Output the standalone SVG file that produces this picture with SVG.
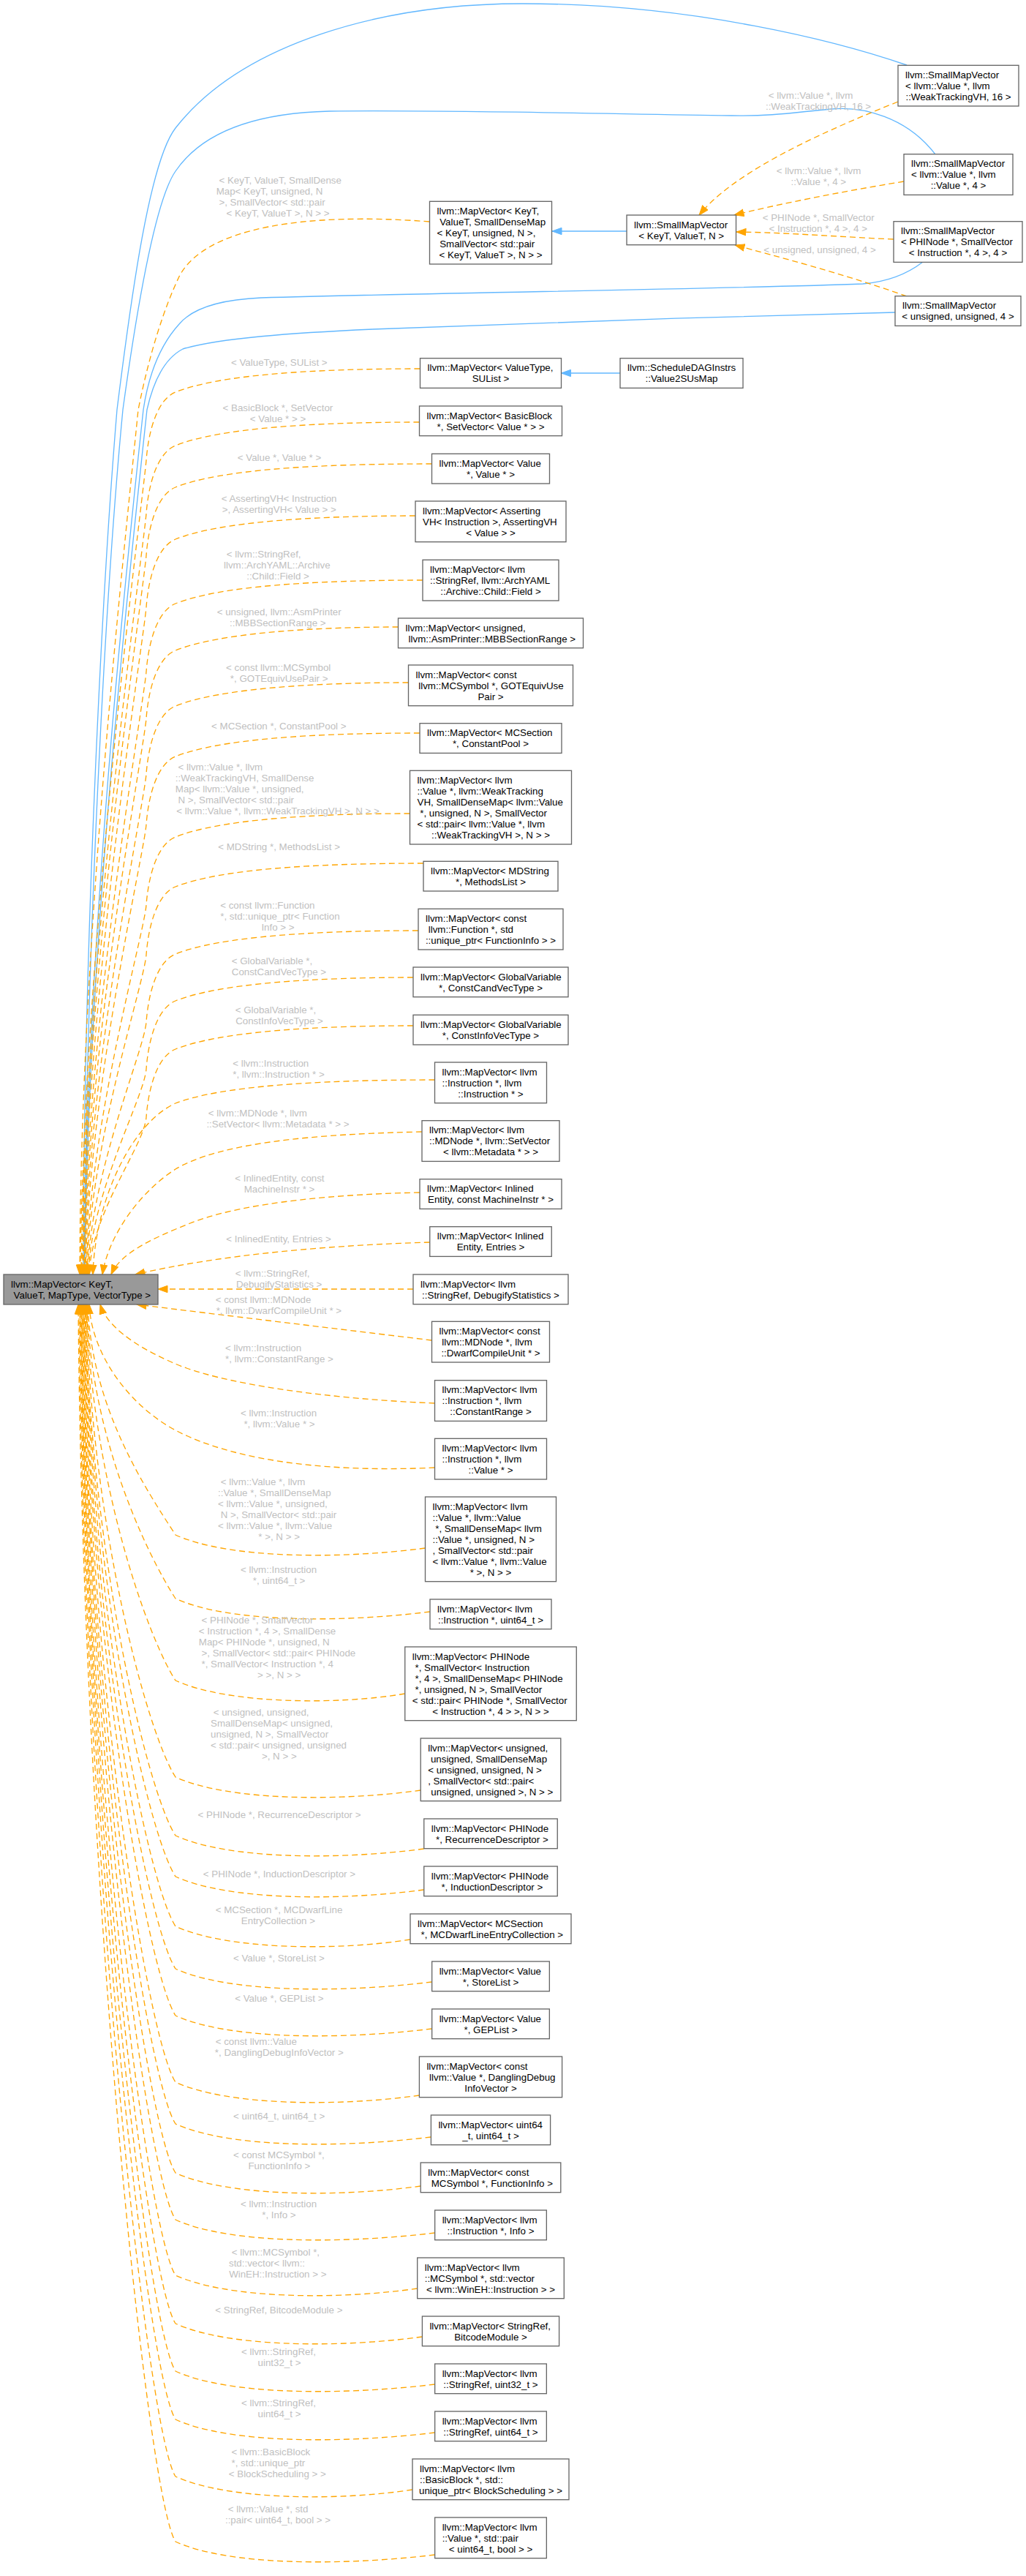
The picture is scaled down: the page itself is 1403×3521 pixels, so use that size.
<svg xmlns="http://www.w3.org/2000/svg" width="1403" height="3521" viewBox="0 0 1403 3521">
<style>
.node rect{fill:#fff;stroke:#666;stroke-width:1.33}
.node text,.lbl text{font-family:"Liberation Sans",Arial,Helvetica,sans-serif;font-size:13.33px;white-space:pre}
.node text{fill:#000}
.lbl text{fill:#c0c0c0}
.c{text-anchor:middle}
.o{fill:none;stroke:#ffa500;stroke-width:1.33;stroke-dasharray:8,5;marker-end:url(#ao)}
.b{fill:none;stroke:#63b8ff;stroke-width:1.33;marker-end:url(#ab)}
</style>
<defs>
<marker id="ao" viewBox="0 0 15 11" markerWidth="15" markerHeight="11" refX="13.5" refY="5.5" orient="auto" markerUnits="userSpaceOnUse"><path d="M0.5,0.8 L13.5,5.5 L0.5,10.2 z" fill="#ffa500" stroke="#ffa500" stroke-width="1"/></marker>
<marker id="ab" viewBox="0 0 15 11" markerWidth="15" markerHeight="11" refX="13.5" refY="5.5" orient="auto" markerUnits="userSpaceOnUse"><path d="M0.5,0.8 L13.5,5.5 L0.5,10.2 z" fill="#63b8ff" stroke="#63b8ff" stroke-width="1"/></marker>
</defs>
<rect width="1403" height="3521" fill="#fff"/>
<g id="edges">
<path class="b" d="M1240,89 C1150,58 950,5 714,5 C520,5 330,60 240,175 C205,220 180,400 160,560 C140,800 114,1300 114,1742"/>
<path class="b" d="M1279,211 C1240,160 1180,145 1137,149 C1090,153 1060,159 1000,158 C800,155 600,150 450,152 C330,155 270,190 240,234 C215,270 190,400 168,560 C145,800 117,1300 116,1742"/>
<path class="b" d="M1262,358 C1240,375 1215,385 1180,388 C1000,395 600,400 357,407 C290,410 260,425 245,443 C225,465 205,500 196,560 C170,800 118,1300 115,1742"/>
<path class="b" d="M1224,427 C1000,432 700,442 510,450 C400,455 300,462 250,477 C225,490 210,520 201,560 C175,800 120,1300 116,1742"/>
<path class="b" d="M857,316 L755,316"/>
<path class="b" d="M848,510 L767.5,510"/>
<path class="o" d="M1228,139 C1100,190 1000,240 956,294"/>
<path class="o" d="M1236,248 C1150,262 1060,280 1004,294"/>
<path class="o" d="M1222,327 C1150,324 1080,318 1007,317"/>
<path class="o" d="M1240,405 C1150,373 1060,350 1005,335"/>
<path class="o" d="M587.5,303 C420,290 280,310 245,378 C225,420 205,480 189,560 C165,800 110,1300 109,1742"/>
<path class="o" d="M574.5,504 C430,504 300,512 240,536 C215,546 203,589 200,629 C197,669 113,1297 110,1742"/>
<path class="o" d="M573.5,577 C430,577 300,585 240,609 C215,619 203,662 200,702 C197,742 114,1326 111,1742"/>
<path class="o" d="M590.5,634 C430,634 300,642 240,666 C215,676 203,719 200,759 C197,799 115,1349 112,1742"/>
<path class="o" d="M568,705 C430,705 300,713 240,737 C215,747 203,790 200,830 C197,870 116,1377 113,1742"/>
<path class="o" d="M578,793 C430,793 300,801 240,825 C215,835 203,878 200,918 C197,958 117,1412 114,1742"/>
<path class="o" d="M544.5,857 C430,857 300,865 240,889 C215,899 203,942 200,982 C197,1022 118,1438 115,1742"/>
<path class="o" d="M558.5,933 C430,933 300,941 240,965 C215,975 203,1018 200,1058 C197,1098 119,1468 116,1742"/>
<path class="o" d="M574,1002 C430,1002 300,1010 240,1034 C215,1044 203,1087 200,1127 C197,1167 120,1496 117,1742"/>
<path class="o" d="M560.5,1112 C430,1112 300,1120 240,1144 C215,1154 203,1197 200,1237 C197,1277 121,1540 118,1742"/>
<path class="o" d="M579,1180 C430,1180 300,1188 240,1212 C215,1222 203,1265 200,1305 C197,1345 122,1567 119,1742"/>
<path class="o" d="M572,1272 C430,1272 300,1280 240,1304 C215,1314 203,1357 200,1397 C197,1437 123,1604 120,1742"/>
<path class="o" d="M565,1336 C430,1336 300,1344 240,1368 C215,1378 203,1421 200,1461 C197,1501 124,1630 121,1742"/>
<path class="o" d="M565,1402 C430,1402 300,1410 240,1434 C215,1444 203,1487 200,1527 C197,1567 125,1656 122,1742"/>
<path class="o" d="M594.5,1476 C430,1476 300,1485 240,1508 C180,1535 130,1640 127,1742"/>
<path class="o" d="M577,1547 C430,1550 300,1562 240,1598 C190,1630 148,1690 140,1742"/>
<path class="o" d="M574,1630 C430,1633 320,1648 260,1672 C210,1692 165,1712 152,1742"/>
<path class="o" d="M587.75,1698 C450,1702 300,1715 185,1742"/>
<path class="o" d="M565,1762 L216,1762"/>
<path class="o" d="M590.5,1832 C450,1815 300,1797 187,1783"/>
<path class="o" d="M594.5,1918 C450,1912 300,1892 235,1862 C180,1838 145,1810 137,1783"/>
<path class="o" d="M594.5,2006 C470,2012 330,2002 240,1955 C175,1920 125,1850 122,1783"/>
<path class="o" d="M581.5,2116 C460,2132 310,2130 240,2098 C200,2036 125,1925 120,1783"/>
<path class="o" d="M588,2203 C460,2219 310,2217 240,2185 C200,2123 124,1964 119,1783"/>
<path class="o" d="M553.75,2315 C460,2331 310,2329 240,2297 C200,2235 123.5,2014 118.5,1783"/>
<path class="o" d="M575.2,2447 C460,2463 310,2461 240,2429 C200,2367 123,2074 118,1783"/>
<path class="o" d="M579.75,2527 C460,2543 310,2541 240,2509 C200,2447 122,2110 117,1783"/>
<path class="o" d="M579.75,2583 C460,2599 310,2597 240,2565 C200,2503 121.5,2135 116.5,1783"/>
<path class="o" d="M561,2651 C460,2667 310,2665 240,2633 C200,2571 121,2165 116,1783"/>
<path class="o" d="M590.65,2709 C460,2725 310,2723 240,2691 C200,2629 120,2192 115,1783"/>
<path class="o" d="M590.65,2773 C460,2789 310,2787 240,2755 C200,2693 119.5,2220 114.5,1783"/>
<path class="o" d="M573.4,2864 C460,2880 310,2878 240,2846 C200,2784 119,2261 114,1783"/>
<path class="o" d="M589.4,2921 C460,2937 310,2935 240,2903 C200,2841 118,2287 113,1783"/>
<path class="o" d="M575.2,2988 C460,3004 310,3002 240,2970 C200,2908 117.5,2317 112.5,1783"/>
<path class="o" d="M594.65,3052 C460,3068 310,3066 240,3034 C200,2972 117,2346 112,1783"/>
<path class="o" d="M570.7,3128 C460,3144 310,3142 240,3110 C200,3048 116,2380 111,1783"/>
<path class="o" d="M577.4,3194 C460,3210 310,3208 240,3176 C200,3114 115.5,2410 110.5,1783"/>
<path class="o" d="M594.65,3259 C460,3275 310,3273 240,3241 C200,3179 115,2439 110,1783"/>
<path class="o" d="M594.65,3325 C460,3341 310,3339 240,3307 C200,3245 114,2469 109,1783"/>
<path class="o" d="M564,3403 C460,3419 310,3417 240,3385 C200,3323 113,2504 108,1783"/>
<path class="o" d="M594.65,3492 C460,3508 310,3506 240,3474 C200,3412 112,2544 107,1783"/>
</g>
<g id="edge-labels" class="lbl">
<text x="1047" y="134.6"> &lt; llvm::Value *, llvm</text><text class="c" x="1119" y="149.6">::WeakTrackingVH, 16 &gt;</text>
<text x="1058" y="237.9"> &lt; llvm::Value *, llvm</text><text class="c" x="1119.3" y="253.3">::Value *, 4 &gt;</text>
<text x="1039" y="302.3"> &lt; PHINode *, SmallVector</text><text class="c" x="1118.7" y="317.3">&lt; Instruction *, 4 &gt;, 4 &gt;</text>
<text class="c" x="1121" y="345.6">&lt; unsigned, unsigned, 4 &gt;</text>
<text x="295.7" y="251.3"> &lt; KeyT, ValueT, SmallDense</text><text x="295.7" y="266.3">Map&lt; KeyT, unsigned, N</text><text x="295.7" y="281.3"> &gt;, SmallVector&lt; std::pair</text><text class="c" x="380" y="296.3">&lt; KeyT, ValueT &gt;, N &gt; &gt;</text>
<text class="c" x="381.8" y="499.9">&lt; ValueType, SUList &gt;</text>
<text x="300.8" y="562.3"> &lt; BasicBlock *, SetVector</text><text class="c" x="380" y="577.3">&lt; Value * &gt; &gt;</text>
<text class="c" x="382" y="629.6">&lt; Value *, Value * &gt;</text>
<text x="299" y="686.3"> &lt; AssertingVH&lt; Instruction</text><text class="c" x="381.8" y="701.3">&gt;, AssertingVH&lt; Value &gt; &gt;</text>
<text x="306" y="762.3"> &lt; llvm::StringRef,</text><text x="306" y="777.3">llvm::ArchYAML::Archive</text><text class="c" x="380" y="792.3">::Child::Field &gt;</text>
<text x="293" y="841.3"> &lt; unsigned, llvm::AsmPrinter</text><text class="c" x="379.8" y="856.3">::MBBSectionRange &gt;</text>
<text x="305.3" y="917.3"> &lt; const llvm::MCSymbol</text><text class="c" x="381.7" y="932.3">*, GOTEquivUsePair &gt;</text>
<text class="c" x="381.3" y="997.3">&lt; MCSection *, ConstantPool &gt;</text>
<text x="239.8" y="1052.9"> &lt; llvm::Value *, llvm</text><text x="239.8" y="1067.9">::WeakTrackingVH, SmallDense</text><text x="239.8" y="1082.9">Map&lt; llvm::Value *, unsigned,</text><text x="239.8" y="1097.9"> N &gt;, SmallVector&lt; std::pair</text><text class="c" x="380" y="1112.9">&lt; llvm::Value *, llvm::WeakTrackingVH &gt;, N &gt; &gt;</text>
<text class="c" x="381.6" y="1162.3">&lt; MDString *, MethodsList &gt;</text>
<text x="297.5" y="1242.3"> &lt; const llvm::Function</text><text x="297.5" y="1257.3"> *, std::unique_ptr&lt; Function</text><text class="c" x="380" y="1272.3">Info &gt; &gt;</text>
<text x="313" y="1318.3"> &lt; GlobalVariable *,</text><text class="c" x="381.4" y="1333.3">ConstCandVecType &gt;</text>
<text x="318" y="1385.3"> &lt; GlobalVariable *,</text><text class="c" x="382" y="1400.3">ConstInfoVecType &gt;</text>
<text x="314.5" y="1458.3"> &lt; llvm::Instruction</text><text class="c" x="381" y="1473.3">*, llvm::Instruction * &gt;</text>
<text x="281" y="1526.3"> &lt; llvm::MDNode *, llvm</text><text class="c" x="380" y="1541.3">::SetVector&lt; llvm::Metadata * &gt; &gt;</text>
<text x="317.5" y="1615.3"> &lt; InlinedEntity, const</text><text class="c" x="382" y="1630.3">MachineInstr * &gt;</text>
<text class="c" x="381" y="1697.9">&lt; InlinedEntity, Entries &gt;</text>
<text x="318" y="1745.3"> &lt; llvm::StringRef,</text><text class="c" x="381.6" y="1760.3">DebugifyStatistics &gt;</text>
<text x="291" y="1781.3"> &lt; const llvm::MDNode</text><text class="c" x="381.4" y="1796.3">*, llvm::DwarfCompileUnit * &gt;</text>
<text x="304.3" y="1847.3"> &lt; llvm::Instruction</text><text class="c" x="382" y="1862.3">*, llvm::ConstantRange &gt;</text>
<text x="325.3" y="1935.6"> &lt; llvm::Instruction</text><text class="c" x="382" y="1950.6">*, llvm::Value * &gt;</text>
<text x="298" y="2030.3"> &lt; llvm::Value *, llvm</text><text x="298" y="2045.3">::Value *, SmallDenseMap</text><text x="298" y="2060.3">&lt; llvm::Value *, unsigned,</text><text x="298" y="2075.3"> N &gt;, SmallVector&lt; std::pair</text><text x="298" y="2090.3">&lt; llvm::Value *, llvm::Value</text><text class="c" x="381.6" y="2105.3">* &gt;, N &gt; &gt;</text>
<text x="325.3" y="2150.3"> &lt; llvm::Instruction</text><text class="c" x="381.6" y="2165.3">*, uint64_t &gt;</text>
<text x="271.8" y="2218.9"> &lt; PHINode *, SmallVector</text><text x="271.8" y="2233.9">&lt; Instruction *, 4 &gt;, SmallDense</text><text x="271.8" y="2248.9">Map&lt; PHINode *, unsigned, N</text><text x="271.8" y="2263.9"> &gt;, SmallVector&lt; std::pair&lt; PHINode</text><text x="271.8" y="2278.9"> *, SmallVector&lt; Instruction *, 4</text><text class="c" x="381.6" y="2293.9">&gt; &gt;, N &gt; &gt;</text>
<text x="288" y="2344.6"> &lt; unsigned, unsigned,</text><text x="288" y="2359.6">SmallDenseMap&lt; unsigned,</text><text x="288" y="2374.6">unsigned, N &gt;, SmallVector</text><text x="288" y="2389.6">&lt; std::pair&lt; unsigned, unsigned</text><text class="c" x="381.8" y="2404.6">&gt;, N &gt; &gt;</text>
<text class="c" x="382" y="2484.6">&lt; PHINode *, RecurrenceDescriptor &gt;</text>
<text class="c" x="381.9" y="2566.3">&lt; PHINode *, InductionDescriptor &gt;</text>
<text x="291" y="2614.6"> &lt; MCSection *, MCDwarfLine</text><text class="c" x="380.4" y="2630.3">EntryCollection &gt;</text>
<text class="c" x="381.4" y="2681.3">&lt; Value *, StoreList &gt;</text>
<text class="c" x="381.8" y="2736.3">&lt; Value *, GEPList &gt;</text>
<text x="291" y="2795.3"> &lt; const llvm::Value</text><text class="c" x="381.8" y="2810.3">*, DanglingDebugInfoVector &gt;</text>
<text class="c" x="381.7" y="2897.3">&lt; uint64_t, uint64_t &gt;</text>
<text x="315.3" y="2950.3"> &lt; const MCSymbol *,</text><text class="c" x="381.9" y="2965.3">FunctionInfo &gt;</text>
<text x="325.3" y="3016.9"> &lt; llvm::Instruction</text><text class="c" x="381.4" y="3031.9">*, Info &gt;</text>
<text x="313" y="3082.9"> &lt; llvm::MCSymbol *,</text><text x="313" y="3097.9">std::vector&lt; llvm::</text><text class="c" x="379.8" y="3112.9">WinEH::Instruction &gt; &gt;</text>
<text class="c" x="381.4" y="3162.3">&lt; StringRef, BitcodeModule &gt;</text>
<text x="326.3" y="3218.9"> &lt; llvm::StringRef,</text><text class="c" x="382" y="3233.9">uint32_t &gt;</text>
<text x="326.3" y="3288.9"> &lt; llvm::StringRef,</text><text class="c" x="382" y="3303.9">uint64_t &gt;</text>
<text x="312.8" y="3356.3"> &lt; llvm::BasicBlock</text><text x="312.8" y="3371.3"> *, std::unique_ptr</text><text class="c" x="379.3" y="3386.3">&lt; BlockScheduling &gt; &gt;</text>
<text x="308" y="3433.9"> &lt; llvm::Value *, std</text><text class="c" x="380" y="3448.9">::pair&lt; uint64_t, bool &gt; &gt;</text>
</g>
<g id="node-mapvector" class="node"><rect x="5" y="1742" width="211" height="41" style="fill:#999"/><text x="15" y="1759.5">llvm::MapVector&lt; KeyT,</text><text class="c" x="110.5" y="1774.5"> ValueT, MapType, VectorType &gt;</text></g>
<g id="node-smv-keyt" class="node"><rect x="857" y="294" width="149.5" height="40.7"/><text x="867" y="311.5">llvm::SmallMapVector</text><text class="c" x="931.75" y="326.5">&lt; KeyT, ValueT, N &gt;</text></g>
<g id="node-value2sus" class="node"><rect x="848" y="489.7" width="168" height="40.7"/><text x="858" y="507.2">llvm::ScheduleDAGInstrs</text><text class="c" x="932" y="522.2">::Value2SUsMap</text></g>
<g id="node-smv1" class="node"><rect x="1228" y="89.3" width="165" height="55.7"/><text x="1238" y="106.8">llvm::SmallMapVector</text><text x="1238" y="121.8">&lt; llvm::Value *, llvm</text><text class="c" x="1310.5" y="136.8">::WeakTrackingVH, 16 &gt;</text></g>
<g id="node-smv2" class="node"><rect x="1236" y="210.7" width="149" height="55.7"/><text x="1246" y="228.2">llvm::SmallMapVector</text><text x="1246" y="243.2">&lt; llvm::Value *, llvm</text><text class="c" x="1310.5" y="258.2">::Value *, 4 &gt;</text></g>
<g id="node-smv3" class="node"><rect x="1222" y="302.7" width="176" height="55.7"/><text x="1232" y="320.2">llvm::SmallMapVector</text><text x="1232" y="335.2">&lt; PHINode *, SmallVector</text><text class="c" x="1310" y="350.2">&lt; Instruction *, 4 &gt;, 4 &gt;</text></g>
<g id="node-smv4" class="node"><rect x="1224" y="404.7" width="172" height="40.7"/><text x="1234" y="422.2">llvm::SmallMapVector</text><text class="c" x="1310" y="437.2">&lt; unsigned, unsigned, 4 &gt;</text></g>
<g id="node-n1" class="node"><rect x="587.5" y="275.3" width="167" height="85.7"/><text x="597.5" y="292.8">llvm::MapVector&lt; KeyT,</text><text x="597.5" y="307.8"> ValueT, SmallDenseMap</text><text x="597.5" y="322.8">&lt; KeyT, unsigned, N &gt;,</text><text x="597.5" y="337.8"> SmallVector&lt; std::pair</text><text class="c" x="671" y="352.8">&lt; KeyT, ValueT &gt;, N &gt; &gt;</text></g>
<g id="node-n2" class="node"><rect x="574.5" y="489.7" width="193" height="40.7"/><text x="584.5" y="507.2">llvm::MapVector&lt; ValueType,</text><text class="c" x="671" y="522.2">SUList &gt;</text></g>
<g id="node-n3" class="node"><rect x="573.5" y="555" width="195" height="40.7"/><text x="583.5" y="572.5">llvm::MapVector&lt; BasicBlock</text><text class="c" x="671" y="587.5">*, SetVector&lt; Value * &gt; &gt;</text></g>
<g id="node-n4" class="node"><rect x="590.5" y="620.3" width="161" height="40.7"/><text x="600.5" y="637.8">llvm::MapVector&lt; Value</text><text class="c" x="671" y="652.8">*, Value * &gt;</text></g>
<g id="node-n5" class="node"><rect x="568" y="685" width="206" height="55.7"/><text x="578" y="702.5">llvm::MapVector&lt; Asserting</text><text x="578" y="717.5">VH&lt; Instruction &gt;, AssertingVH</text><text class="c" x="671" y="732.5">&lt; Value &gt; &gt;</text></g>
<g id="node-n6" class="node"><rect x="578" y="765.3" width="186" height="55.7"/><text x="588" y="782.8">llvm::MapVector&lt; llvm</text><text x="588" y="797.8">::StringRef, llvm::ArchYAML</text><text class="c" x="671" y="812.8">::Archive::Child::Field &gt;</text></g>
<g id="node-n7" class="node"><rect x="544.5" y="845" width="253" height="40.7"/><text x="554.5" y="862.5">llvm::MapVector&lt; unsigned,</text><text class="c" x="671" y="877.5"> llvm::AsmPrinter::MBBSectionRange &gt;</text></g>
<g id="node-n8" class="node"><rect x="558.5" y="909" width="225" height="55.7"/><text x="568.5" y="926.5">llvm::MapVector&lt; const</text><text x="568.5" y="941.5"> llvm::MCSymbol *, GOTEquivUse</text><text class="c" x="671" y="956.5">Pair &gt;</text></g>
<g id="node-n9" class="node"><rect x="574" y="988.7" width="194" height="40.7"/><text x="584" y="1006.2">llvm::MapVector&lt; MCSection</text><text class="c" x="671" y="1021.2">*, ConstantPool &gt;</text></g>
<g id="node-n10" class="node"><rect x="560.5" y="1053.3" width="221" height="100.7"/><text x="570.5" y="1070.8">llvm::MapVector&lt; llvm</text><text x="570.5" y="1085.8">::Value *, llvm::WeakTracking</text><text x="570.5" y="1100.8">VH, SmallDenseMap&lt; llvm::Value</text><text x="570.5" y="1115.8"> *, unsigned, N &gt;, SmallVector</text><text x="570.5" y="1130.8">&lt; std::pair&lt; llvm::Value *, llvm</text><text class="c" x="671" y="1145.8">::WeakTrackingVH &gt;, N &gt; &gt;</text></g>
<g id="node-n11" class="node"><rect x="579" y="1177.3" width="184" height="40.7"/><text x="589" y="1194.8">llvm::MapVector&lt; MDString</text><text class="c" x="671" y="1209.8">*, MethodsList &gt;</text></g>
<g id="node-n12" class="node"><rect x="572" y="1242.3" width="198" height="55.7"/><text x="582" y="1259.8">llvm::MapVector&lt; const</text><text x="582" y="1274.8"> llvm::Function *, std</text><text class="c" x="671" y="1289.8">::unique_ptr&lt; FunctionInfo &gt; &gt;</text></g>
<g id="node-n13" class="node"><rect x="565" y="1322" width="212" height="40.7"/><text x="575" y="1339.5">llvm::MapVector&lt; GlobalVariable</text><text class="c" x="671" y="1354.5">*, ConstCandVecType &gt;</text></g>
<g id="node-n14" class="node"><rect x="565" y="1387.3" width="212" height="40.7"/><text x="575" y="1404.8">llvm::MapVector&lt; GlobalVariable</text><text class="c" x="671" y="1419.8">*, ConstInfoVecType &gt;</text></g>
<g id="node-n15" class="node"><rect x="594.5" y="1452" width="153" height="55.7"/><text x="604.5" y="1469.5">llvm::MapVector&lt; llvm</text><text x="604.5" y="1484.5">::Instruction *, llvm</text><text class="c" x="671" y="1499.5">::Instruction * &gt;</text></g>
<g id="node-n16" class="node"><rect x="577" y="1531.7" width="188" height="55.7"/><text x="587" y="1549.2">llvm::MapVector&lt; llvm</text><text x="587" y="1564.2">::MDNode *, llvm::SetVector</text><text class="c" x="671" y="1579.2">&lt; llvm::Metadata * &gt; &gt;</text></g>
<g id="node-n17" class="node"><rect x="574" y="1611.7" width="194" height="40.7"/><text x="584" y="1629.2">llvm::MapVector&lt; Inlined</text><text class="c" x="671" y="1644.2">Entity, const MachineInstr * &gt;</text></g>
<g id="node-n18" class="node"><rect x="587.75" y="1676.7" width="166.5" height="40.7"/><text x="597.75" y="1694.2">llvm::MapVector&lt; Inlined</text><text class="c" x="671" y="1709.2">Entity, Entries &gt;</text></g>
<g id="node-n19" class="node"><rect x="565" y="1742" width="212" height="40.7"/><text x="575" y="1759.5">llvm::MapVector&lt; llvm</text><text class="c" x="671" y="1774.5">::StringRef, DebugifyStatistics &gt;</text></g>
<g id="node-n20" class="node"><rect x="590.5" y="1806.3" width="161" height="55.7"/><text x="600.5" y="1823.8">llvm::MapVector&lt; const</text><text x="600.5" y="1838.8"> llvm::MDNode *, llvm</text><text class="c" x="671" y="1853.8">::DwarfCompileUnit * &gt;</text></g>
<g id="node-n21" class="node"><rect x="594.5" y="1886.7" width="153" height="55.7"/><text x="604.5" y="1904.2">llvm::MapVector&lt; llvm</text><text x="604.5" y="1919.2">::Instruction *, llvm</text><text class="c" x="671" y="1934.2">::ConstantRange &gt;</text></g>
<g id="node-n22" class="node"><rect x="594.5" y="1966.3" width="153" height="55.7"/><text x="604.5" y="1983.8">llvm::MapVector&lt; llvm</text><text x="604.5" y="1998.8">::Instruction *, llvm</text><text class="c" x="671" y="2013.8">::Value * &gt;</text></g>
<g id="node-n23" class="node"><rect x="581.5" y="2046" width="179" height="115.7"/><text x="591.5" y="2063.5">llvm::MapVector&lt; llvm</text><text x="591.5" y="2078.5">::Value *, llvm::Value</text><text x="591.5" y="2093.5"> *, SmallDenseMap&lt; llvm</text><text x="591.5" y="2108.5">::Value *, unsigned, N &gt;</text><text x="591.5" y="2123.5">, SmallVector&lt; std::pair</text><text x="591.5" y="2138.5">&lt; llvm::Value *, llvm::Value</text><text class="c" x="671" y="2153.5">* &gt;, N &gt; &gt;</text></g>
<g id="node-n24" class="node"><rect x="588" y="2186" width="166" height="40.7"/><text x="598" y="2203.5">llvm::MapVector&lt; llvm</text><text class="c" x="671" y="2218.5">::Instruction *, uint64_t &gt;</text></g>
<g id="node-n25" class="node"><rect x="553.75" y="2251" width="234.5" height="100.7"/><text x="563.75" y="2268.5">llvm::MapVector&lt; PHINode</text><text x="563.75" y="2283.5"> *, SmallVector&lt; Instruction</text><text x="563.75" y="2298.5"> *, 4 &gt;, SmallDenseMap&lt; PHINode</text><text x="563.75" y="2313.5"> *, unsigned, N &gt;, SmallVector</text><text x="563.75" y="2328.5">&lt; std::pair&lt; PHINode *, SmallVector</text><text class="c" x="671" y="2343.5">&lt; Instruction *, 4 &gt; &gt;, N &gt; &gt;</text></g>
<g id="node-n26" class="node"><rect x="575.2" y="2376" width="191.6" height="85.7"/><text x="585.2" y="2393.5">llvm::MapVector&lt; unsigned,</text><text x="585.2" y="2408.5"> unsigned, SmallDenseMap</text><text x="585.2" y="2423.5">&lt; unsigned, unsigned, N &gt;</text><text x="585.2" y="2438.5">, SmallVector&lt; std::pair&lt;</text><text class="c" x="671" y="2453.5"> unsigned, unsigned &gt;, N &gt; &gt;</text></g>
<g id="node-n27" class="node"><rect x="579.75" y="2486" width="182.5" height="40.7"/><text x="589.75" y="2503.5">llvm::MapVector&lt; PHINode</text><text class="c" x="671" y="2518.5"> *, RecurrenceDescriptor &gt;</text></g>
<g id="node-n28" class="node"><rect x="579.75" y="2551" width="182.5" height="40.7"/><text x="589.75" y="2568.5">llvm::MapVector&lt; PHINode</text><text class="c" x="671" y="2583.5"> *, InductionDescriptor &gt;</text></g>
<g id="node-n29" class="node"><rect x="561" y="2616" width="220" height="40.7"/><text x="571" y="2633.5">llvm::MapVector&lt; MCSection</text><text class="c" x="671" y="2648.5"> *, MCDwarfLineEntryCollection &gt;</text></g>
<g id="node-n30" class="node"><rect x="590.65" y="2681" width="160.7" height="40.7"/><text x="600.65" y="2698.5">llvm::MapVector&lt; Value</text><text class="c" x="671" y="2713.5">*, StoreList &gt;</text></g>
<g id="node-n31" class="node"><rect x="590.65" y="2746" width="160.7" height="40.7"/><text x="600.65" y="2763.5">llvm::MapVector&lt; Value</text><text class="c" x="671" y="2778.5">*, GEPList &gt;</text></g>
<g id="node-n32" class="node"><rect x="573.4" y="2811" width="195.2" height="55.7"/><text x="583.4" y="2828.5">llvm::MapVector&lt; const</text><text x="583.4" y="2843.5"> llvm::Value *, DanglingDebug</text><text class="c" x="671" y="2858.5">InfoVector &gt;</text></g>
<g id="node-n33" class="node"><rect x="589.4" y="2891" width="163.2" height="40.7"/><text x="599.4" y="2908.5">llvm::MapVector&lt; uint64</text><text class="c" x="671" y="2923.5">_t, uint64_t &gt;</text></g>
<g id="node-n34" class="node"><rect x="575.2" y="2956" width="191.6" height="40.7"/><text x="585.2" y="2973.5">llvm::MapVector&lt; const</text><text class="c" x="671" y="2988.5"> MCSymbol *, FunctionInfo &gt;</text></g>
<g id="node-n35" class="node"><rect x="594.65" y="3021" width="152.7" height="40.7"/><text x="604.65" y="3038.5">llvm::MapVector&lt; llvm</text><text class="c" x="671" y="3053.5">::Instruction *, Info &gt;</text></g>
<g id="node-n36" class="node"><rect x="570.7" y="3086" width="200.6" height="55.7"/><text x="580.7" y="3103.5">llvm::MapVector&lt; llvm</text><text x="580.7" y="3118.5">::MCSymbol *, std::vector</text><text class="c" x="671" y="3133.5">&lt; llvm::WinEH::Instruction &gt; &gt;</text></g>
<g id="node-n37" class="node"><rect x="577.4" y="3166" width="187.2" height="40.7"/><text x="587.4" y="3183.5">llvm::MapVector&lt; StringRef,</text><text class="c" x="671" y="3198.5">BitcodeModule &gt;</text></g>
<g id="node-n38" class="node"><rect x="594.65" y="3231" width="152.7" height="40.7"/><text x="604.65" y="3248.5">llvm::MapVector&lt; llvm</text><text class="c" x="671" y="3263.5">::StringRef, uint32_t &gt;</text></g>
<g id="node-n39" class="node"><rect x="594.65" y="3296" width="152.7" height="40.7"/><text x="604.65" y="3313.5">llvm::MapVector&lt; llvm</text><text class="c" x="671" y="3328.5">::StringRef, uint64_t &gt;</text></g>
<g id="node-n40" class="node"><rect x="564" y="3361" width="214" height="55.7"/><text x="574" y="3378.5">llvm::MapVector&lt; llvm</text><text x="574" y="3393.5">::BasicBlock *, std::</text><text class="c" x="671" y="3408.5">unique_ptr&lt; BlockScheduling &gt; &gt;</text></g>
<g id="node-n41" class="node"><rect x="594.65" y="3441" width="152.7" height="55.7"/><text x="604.65" y="3458.5">llvm::MapVector&lt; llvm</text><text x="604.65" y="3473.5">::Value *, std::pair</text><text class="c" x="671" y="3488.5">&lt; uint64_t, bool &gt; &gt;</text></g>
</svg>
